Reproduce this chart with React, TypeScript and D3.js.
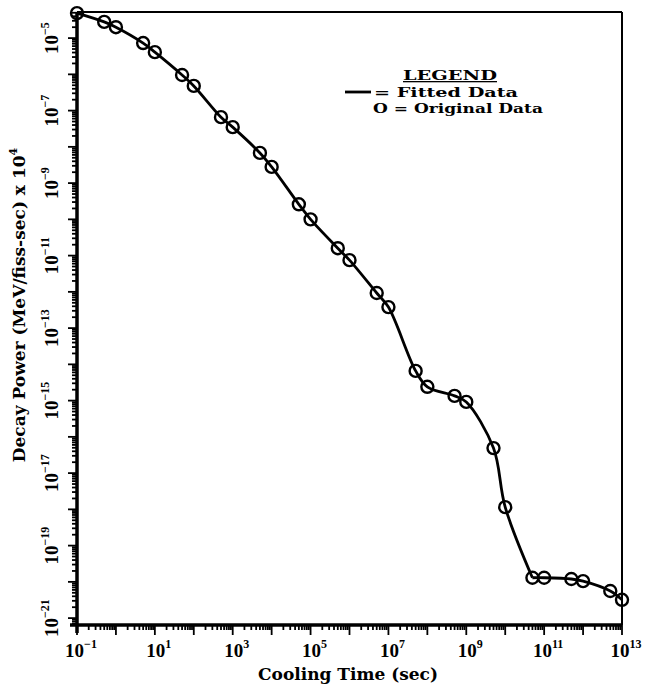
import * as d3 from 'd3'

const coolingTime = [
    1e-1, 5e-1, 1e0, 5e0, 1e1, 5e1, 1e2, 5e2, 1e3, 5e3, 1e4, 5e4, 1e5, 5e5, 1e6,
    5e6, 1e7, 5e7, 1e8, 5e8, 1e9, 5e9, 1e10, 5e10, 1e11, 5e11, 1e12, 5e12, 1e13,
]
const decayPower = [
    4.9e-5, 2.8e-5, 2.0e-5, 7.3e-6, 4.1e-6, 9.6e-7, 4.8e-7, 6.6e-8, 3.5e-8,
    6.8e-9, 2.8e-9, 2.6e-10, 1.0e-10, 1.6e-11, 7.5e-12, 9.3e-13, 3.8e-13,
    6.6e-15, 2.4e-15, 1.35e-15, 9.2e-16, 4.9e-17, 1.15e-18, 1.3e-20, 1.3e-20,
    1.2e-20, 1.05e-20, 5.6e-21, 3.2e-21,
]
// the fitted curve has a sharp knee at this point
const kneeIndex = 23
const xTickExps = [-1, 1, 3, 5, 7, 9, 11, 13]
const yTickExps = [-5, -7, -9, -11, -13, -15, -17, -19, -21]

const W = 659
const H = 687
const left = 77
const right = 622
const top = 12
const bottom = 625

const font = '"DejaVu Serif", serif'
const tickFont = '"Liberation Serif", serif'

export default function App() {
    const x = d3.scaleLog().domain([1e-1, 1e13]).range([left, right])
    const y = d3
        .scaleLog()
        .domain([Math.pow(10, -21.19), Math.pow(10, -4.28)])
        .range([bottom, top])

    const pts = coolingTime.map((t, i) => [x(t), y(decayPower[i])] as [number, number])
    const line = d3.line().curve(d3.curveCatmullRom.alpha(0.5))
    const pathA = line(pts.slice(0, kneeIndex + 1)) || ''
    const pathB = line(pts.slice(kneeIndex)) || ''

    // minor + major ticks for both axes
    const xTicks: { v: number; major: boolean }[] = []
    for (let e = -1; e <= 13; e++) {
        for (let m = 1; m <= 9; m++) {
            const v = m * Math.pow(10, e)
            if (v > 1e13 * 1.0001) continue
            xTicks.push({ v, major: m === 1 })
        }
    }
    const yTicks: { v: number; major: boolean }[] = []
    const [y0, y1] = y.domain()
    for (let e = -22; e <= -4; e++) {
        for (let m = 1; m <= 9; m++) {
            const v = m * Math.pow(10, e)
            if (v < y0 || v > y1) continue
            yTicks.push({ v, major: m === 1 })
        }
    }

    return (
        <svg
            width={W}
            height={H}
            style={{ position: 'absolute', left: 0, top: 0, background: '#fff' }}
        >
            {/* frame */}
            <line x1={left} x2={right} y1={top} y2={top} stroke="#000" strokeWidth={2} />
            <line x1={right} x2={right} y1={top} y2={bottom} stroke="#000" strokeWidth={2} />

            {/* y axis */}
            <line x1={left} x2={left} y1={top} y2={bottom + 8} stroke="#000" strokeWidth={3.5} />
            {yTicks.map((t, i) => (
                <line
                    key={'yt' + i}
                    x1={left}
                    x2={left - (t.major ? 9 : 5)}
                    y1={y(t.v)}
                    y2={y(t.v)}
                    stroke="#000"
                    strokeWidth={1.8}
                />
            ))}
            {yTickExps.map((e) => (
                <text
                    key={'yl' + e}
                    transform={`translate(58, ${y(Math.pow(10, e))}) rotate(-90)`}
                    textAnchor="middle"
                    fontFamily={tickFont}
                    fontWeight="bold"
                    fontSize={19}
                >
                    10
                    <tspan fontSize={12} dy={-9}>
                        {'\u2212' + Math.abs(e)}
                    </tspan>
                </text>
            ))}

            {/* x axis */}
            <line x1={left - 7} x2={right} y1={bottom} y2={bottom} stroke="#000" strokeWidth={3.5} />
            {xTicks.map((t, i) => (
                <line
                    key={'xt' + i}
                    x1={x(t.v)}
                    x2={x(t.v)}
                    y1={bottom}
                    y2={bottom + (t.major ? 10 : 5)}
                    stroke="#000"
                    strokeWidth={1.8}
                />
            ))}
            {xTickExps.map((e) => (
                <text
                    key={'xl' + e}
                    x={x(Math.pow(10, e)) + 4}
                    y={657}
                    textAnchor="middle"
                    fontFamily={tickFont}
                    fontWeight="bold"
                    fontSize={19}
                >
                    10
                    <tspan fontSize={12} dy={-9}>
                        {e < 0 ? '\u2212' + Math.abs(e) : String(e)}
                    </tspan>
                </text>
            ))}

            {/* axis titles */}
            <text
                x={348}
                y={680}
                textAnchor="middle"
                fontFamily={font}
                fontWeight="bold"
                fontSize={16}
                textLength={180}
                lengthAdjust="spacingAndGlyphs"
            >
                Cooling Time (sec)
            </text>
            <text
                transform="translate(25, 305) rotate(-90)"
                textAnchor="middle"
                fontFamily={font}
                fontWeight="bold"
                fontSize={17}
            >
                Decay Power (MeV/fiss-sec) x 10
                <tspan fontSize={11} dy={-8}>
                    4
                </tspan>
            </text>

            {/* fitted curve */}
            <path d={pathA} fill="none" stroke="#000" strokeWidth={2.8} />
            <path d={pathB} fill="none" stroke="#000" strokeWidth={2.8} />

            {/* original data */}
            {pts.map((p, i) => (
                <circle
                    key={'c' + i}
                    cx={p[0]}
                    cy={p[1]}
                    r={6}
                    fill="none"
                    stroke="#000"
                    strokeWidth={2.4}
                />
            ))}

            {/* legend */}
            <text
                x={403}
                y={80}
                fontFamily={font}
                fontWeight="bold"
                fontSize={13}
                textDecoration="underline"
                textLength={94}
                lengthAdjust="spacingAndGlyphs"
            >
                LEGEND
            </text>
            <line x1={345} x2={371} y1={92} y2={92} stroke="#000" strokeWidth={2.8} />
            <text
                x={374}
                y={97}
                fontFamily={font}
                fontWeight="bold"
                fontSize={13}
                textLength={144}
                lengthAdjust="spacingAndGlyphs"
            >
                = Fitted Data
            </text>
            <text
                x={373}
                y={113}
                fontFamily={font}
                fontWeight="bold"
                fontSize={13}
                textLength={170}
                lengthAdjust="spacingAndGlyphs"
            >
                O = Original Data
            </text>
        </svg>
    )
}
